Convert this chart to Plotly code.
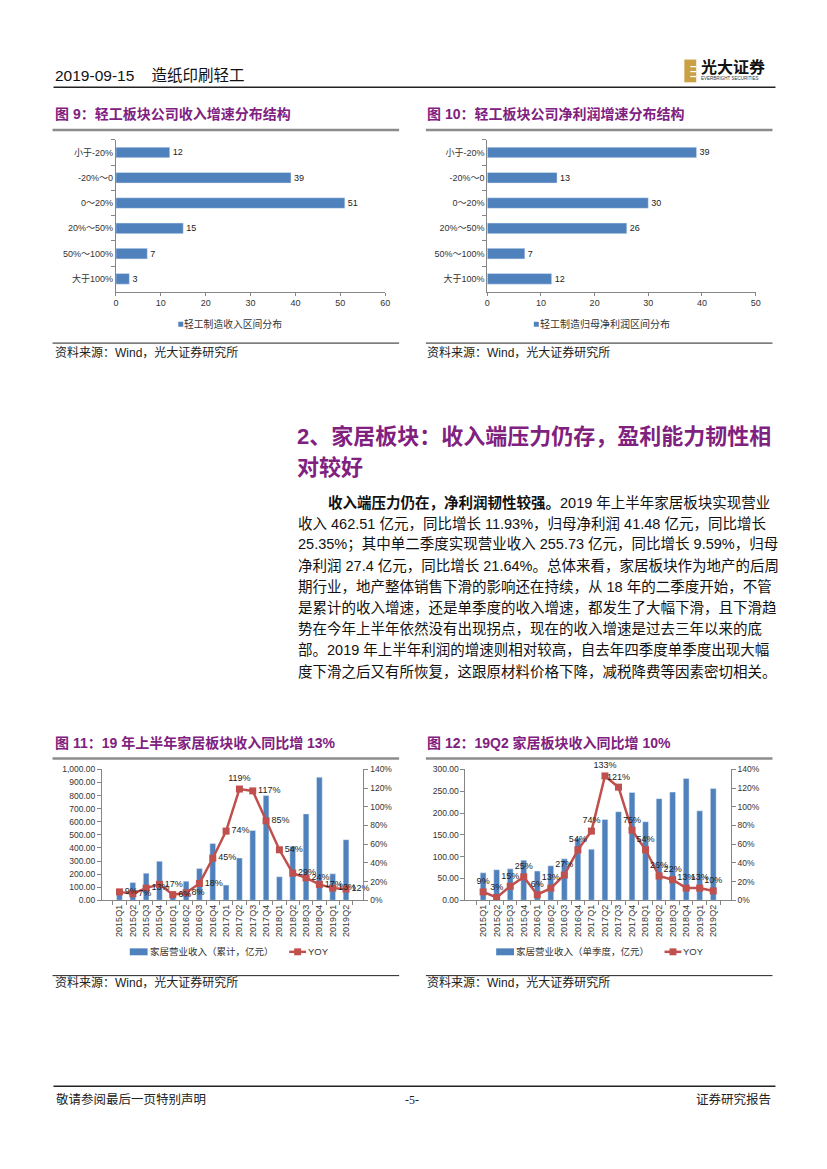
import plotly.graph_objects as go

W, H = 827, 1169
def X(px): return px / W
def Y(py): return 1 - py / H

# ---------------- data ----------------
dist_cats = ["小于-20%", "-20%～0", "0～20%", "20%～50%", "50%～100%", "大于100%"]
rev_dist = [12, 39, 51, 15, 7, 3]
np_dist = [39, 13, 30, 26, 7, 12]

quarters = ["2015Q1", "2015Q2", "2015Q3", "2015Q4", "2016Q1", "2016Q2", "2016Q3", "2016Q4",
            "2017Q1", "2017Q2", "2017Q3", "2017Q4", "2018Q1", "2018Q2", "2018Q3", "2018Q4",
            "2019Q1", "2019Q2"]
cum_rev = [63, 135, 207, 298, 67, 146, 242, 434, 116, 323, 533, 800, 180, 413, 660, 940, 202, 463]
cum_yoy = [9, 7, 13, 17, 6, 8, 18, 45, 74, 119, 117, 85, 54, 29, 24, 17, 13, 12]
q_rev = [63, 70, 72, 92, 67, 79, 95, 142, 117, 185, 203, 247, 180, 233, 248, 279, 205, 256]
q_yoy = [9, 3, 15, 25, 6, 13, 27, 54, 74, 133, 121, 75, 54, 26, 22, 13, 13, 10]

BLUE = "#4F81BD"
RED = "#C0504D"
PURPLE = "#80217F"
AXC = "#868686"
FONT = "Liberation Sans, Noto Sans CJK SC"

fig = go.Figure()

fig.add_trace(go.Bar(x=rev_dist, y=dist_cats, orientation="h", marker_color=BLUE, width=0.42,
                     text=[str(v) for v in rev_dist], textposition="outside",
                     textfont=dict(size=9, color="#222"), cliponaxis=False, showlegend=False,
                     name="轻工制造收入区间分布", xaxis="x", yaxis="y"))
fig.add_trace(go.Bar(x=np_dist, y=dist_cats, orientation="h", marker_color=BLUE, width=0.42,
                     text=[str(v) for v in np_dist], textposition="outside",
                     textfont=dict(size=9, color="#222"), cliponaxis=False, showlegend=False,
                     name="轻工制造归母净利润区间分布", xaxis="x2", yaxis="y2"))

fig.add_trace(go.Bar(x=quarters, y=cum_rev, marker_color=BLUE, width=0.43, showlegend=False,
                     name="家居营业收入（累计，亿元）", xaxis="x3", yaxis="y3"))
pos11 = ["middle right"] * len(quarters)
pos11[9] = "top center"
fig.add_trace(go.Scatter(x=quarters, y=[v / 100 for v in cum_yoy], mode="lines+markers+text",
                         line=dict(color=RED, width=2.5), marker=dict(symbol="square", size=7, color=RED),
                         text=[f"{v}%" for v in cum_yoy], textposition=pos11, showlegend=False,
                         textfont=dict(size=9, color="#222"), cliponaxis=False,
                         name="YOY", xaxis="x3", yaxis="y4"))

fig.add_trace(go.Bar(x=quarters, y=q_rev, marker_color=BLUE, width=0.43, showlegend=False,
                     name="家居营业收入（单季度，亿元）", xaxis="x5", yaxis="y5"))
fig.add_trace(go.Scatter(x=quarters, y=[v / 100 for v in q_yoy], mode="lines+markers+text",
                         line=dict(color=RED, width=2.5), marker=dict(symbol="square", size=7, color=RED),
                         text=[f"{v}%" for v in q_yoy], textposition="top center", showlegend=False,
                         textfont=dict(size=9, color="#222"), cliponaxis=False,
                         name="YOY", xaxis="x5", yaxis="y6"))

tickf = dict(size=9, color="#333", family=FONT)
tickfy = dict(size=8.5, color="#333", family=FONT)
tickfx = dict(size=9, color="#333", family=FONT)

ydom9 = [Y(289), Y(136)]
ydom11 = [Y(903), Y(771)]

def cat_axis(anchor, dom):
    return dict(domain=dom, anchor=anchor, autorange="reversed", showline=True, linecolor=AXC,
                linewidth=1, ticks="outside", ticklen=4, tickcolor=AXC, tickson="boundaries",
                tickfont=tickf, showgrid=False, fixedrange=True)

def val_axis(anchor, dom, rng):
    return dict(domain=dom, anchor=anchor, range=rng, dtick=10, showline=True, linecolor=AXC,
                linewidth=1, ticks="outside", ticklen=3, tickcolor=AXC, tickfont=tickf,
                showgrid=False, zeroline=False)

def left_axis(anchor, rng, dt, fmt):
    return dict(domain=ydom11, anchor=anchor, range=rng, dtick=dt, tickformat=fmt,
                showline=True, linecolor=AXC, ticks="outside", ticklen=4, tickcolor=AXC,
                tickfont=tickfy, showgrid=False, zeroline=False)

def right_axis(over, anchor):
    return dict(overlaying=over, side="right", anchor=anchor, range=[0, 1.4], dtick=0.2, tickformat=".0%",
                showline=True, linecolor=AXC, ticks="outside", ticklen=4, tickcolor=AXC,
                tickfont=tickfy, showgrid=False, zeroline=False)

def q_axis(anchor, dom):
    return dict(domain=dom, anchor=anchor, showline=True, linecolor=AXC, ticks="outside",
                ticklen=4, tickcolor=AXC, tickson="boundaries", tickangle=-90, tickfont=tickfx,
                showgrid=False)

fig.update_layout(
    width=W, height=H, margin=dict(l=0, r=0, t=0, b=0),
    paper_bgcolor="white", plot_bgcolor="white",
    font=dict(family=FONT, color="#222"),
    showlegend=False,
    xaxis=val_axis("y", [X(114), X(386)], [0, 60]),
    yaxis=cat_axis("x", ydom9),
    xaxis2=val_axis("y2", [X(489), X(760)], [0, 50]),
    yaxis2=cat_axis("x2", ydom9),
    xaxis3=q_axis("y3", [X(100), X(364)]),
    yaxis3=left_axis("x3", [0, 1000], 100, ",.2f"),
    yaxis4=right_axis("y3", "x3"),
    xaxis5=q_axis("y5", [X(467), X(735)]),
    yaxis5=left_axis("x5", [0, 300], 50, ".2f"),
    yaxis6=right_axis("y5", "x5"),
)

shapes = []
def hline(x0, x1, py, color, width):
    shapes.append(dict(type="line", xref="paper", yref="paper", x0=X(x0), x1=X(x1), y0=Y(py), y1=Y(py),
                       line=dict(color=color, width=width)))
def rect(x0, x1, y0, y1, color):
    shapes.append(dict(type="rect", xref="paper", yref="paper", x0=X(x0), x1=X(x1), y0=Y(y1), y1=Y(y0),
                       fillcolor=color, line=dict(width=0)))

hline(51, 780, 83, "#222", 1.5)            # header rule
hline(50, 400, 126, "#8c8c8c", 2.5)
hline(427, 777, 126, "#8c8c8c", 2.5)
hline(50, 400, 341, "#222", 1)
hline(427, 777, 341, "#222", 1)
hline(50, 400, 760, "#8c8c8c", 2.5)
hline(427, 777, 760, "#8c8c8c", 2.5)
hline(50, 400, 979, "#222", 1)
hline(427, 777, 979, "#222", 1)
hline(51, 780, 1090.5, "#222", 1.5)        # footer rule

# logo
rect(688, 700, 55, 78, "#C9A043")
for sy in (61.5, 66.5, 71.5):
    rect(694, 700, sy, sy + 1.3, "white")

# legend swatches
rect(177, 182, 319.5, 324.5, BLUE)
rect(536, 541, 319.5, 324.5, BLUE)
rect(128, 146, 951.5, 958.5, BLUE)
rect(498, 516, 951.5, 958.5, BLUE)
hline(289, 306, 955, RED, 2.5)
hline(668, 685, 955, RED, 2.5)
rect(294, 301, 951.5, 958.5, RED)
rect(673, 680, 951.5, 958.5, RED)
fig.update_layout(shapes=shapes)

ann = []
def text(px, py, s, size, color="#222", anchor="left", bold=False, family=FONT):
    if bold:
        s = f"<b>{s}</b>"
    ann.append(dict(x=X(px), y=Y(py), xref="paper", yref="paper", text=s, showarrow=False,
                    xanchor=anchor, yanchor="middle", font=dict(size=size, color=color, family=family)))

text(50, 71, "2019-09-15&nbsp;&nbsp;&nbsp; 造纸印刷轻工", 15.5, "#111")
text(703, 63, "光大证券", 16, "#111", bold=True)
text(703, 74.5, "EVERBRIGHT SECURITIES", 4.5, "#333")

text(50, 110, "图 9：轻工板块公司收入增速分布结构", 14, PURPLE, bold=True)
text(426, 110, "图 10：轻工板块公司净利润增速分布结构", 14, PURPLE, bold=True)
text(50, 351, "资料来源：Wind，光大证券研究所", 12, "#222")
text(426, 351, "资料来源：Wind，光大证券研究所", 12, "#222")

text(181, 322, "轻工制造收入区间分布", 9.8, "#333")
text(540, 322, "轻工制造归母净利润区间分布", 10, "#333")
text(146, 955, "家居营业收入（累计，亿元）", 9.5, "#333")
text(306, 955, "YOY", 9.5, "#333")
text(516, 955, "家居营业收入（单季度，亿元）", 9.5, "#333")
text(685, 955, "YOY", 9.5, "#333")

text(295, 435, "2、家居板块：收入端压力仍存，盈利能力韧性相", 22, PURPLE, bold=True)
text(295, 466, "对较好", 22, PURPLE, bold=True)

para = [
    "<b>收入端压力仍在，净利润韧性较强。</b>2019 年上半年家居板块实现营业",
    "收入 462.51 亿元，同比增长 11.93%，归母净利润 41.48 亿元，同比增长",
    "25.35%；其中单二季度实现营业收入 255.73 亿元，同比增长 9.59%，归母",
    "净利润 27.4 亿元，同比增长 21.64%。总体来看，家居板块作为地产的后周",
    "期行业，地产整体销售下滑的影响还在持续，从 18 年的二季度开始，不管",
    "是累计的收入增速，还是单季度的收入增速，都发生了大幅下滑，且下滑趋",
    "势在今年上半年依然没有出现拐点，现在的收入增速是过去三年以来的底",
    "部。2019 年上半年利润的增速则相对较高，自去年四季度单季度出现大幅",
    "度下滑之后又有所恢复，这跟原材料价格下降，减税降费等因素密切相关。",
]
ys = [502, 523, 544, 565, 587, 608, 629, 650, 672]
for i, (s, py) in enumerate(zip(para, ys)):
    text(326 if i == 0 else 296, py, s, 14.5, "#111")

text(50, 744, "图 11：19 年上半年家居板块收入同比增 13%", 14, PURPLE, bold=True)
text(426, 744, "图 12：19Q2 家居板块收入同比增 10%", 14, PURPLE, bold=True)
text(50, 986, "资料来源：Wind，光大证券研究所", 12, "#222")
text(426, 986, "资料来源：Wind，光大证券研究所", 12, "#222")

text(51, 1104, "敬请参阅最后一页特别声明", 12.5, "#222")
text(413, 1104, "-5-", 12, "#222", anchor="center", family="Liberation Serif")
text(778, 1104, "证券研究报告", 12.5, "#222", anchor="right")

fig.update_layout(annotations=ann)
fig.write_html(
    "out.html",
    config={"displayModeBar": False},
    post_script="document.documentElement.style.margin='0px';document.body.style.margin='0px';"
                "document.documentElement.style.overflow='hidden';document.body.style.overflow='hidden';",
)
